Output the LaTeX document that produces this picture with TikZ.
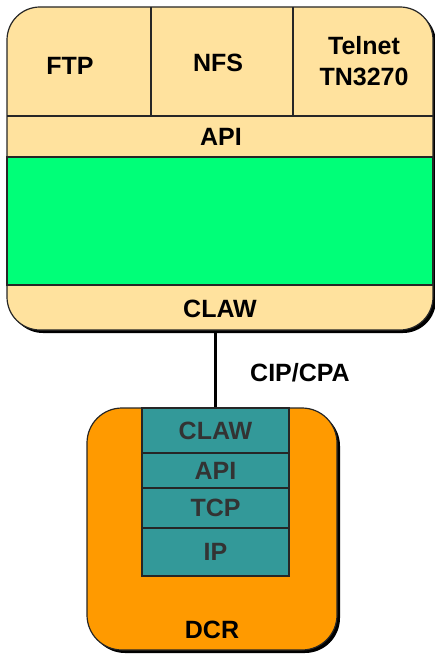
\documentclass[tikz,border=0pt]{standalone}
\usepackage{fontspec}
\setmainfont{Liberation Sans}
\begin{document}
\begin{tikzpicture}[x=1pt,y=-1pt,
  lbl/.style={font=\fontsize{25}{28}\selectfont\bfseries, inner sep=0pt},
  cell/.style={draw=black!85, line width=1.2pt, inner sep=0pt},
  bigbox/.style={draw=black!85, line width=1.2pt, rounded corners=33pt, inner sep=0pt},
  shadowbox/.style={fill=black, rounded corners=33pt, inner sep=0pt}]
\definecolor{beige}{HTML}{FFE29E}
\definecolor{mintgreen}{HTML}{00FF78}
\definecolor{dcrorange}{HTML}{FF9A00}
\definecolor{tealc}{HTML}{339999}
\useasboundingbox (0,0) rectangle (435,655);
% top box
\node[shadowbox, minimum width=426pt, minimum height=323pt] (topsh) at (223,171.5) {};
\node[bigbox, fill=beige, minimum width=426pt, minimum height=323pt] (top) at (220,168.5) {};
\node[cell, fill=mintgreen, minimum width=426pt, minimum height=128pt] (green) at (220,221) {};
\draw[black!85, line width=1.2pt] (7,116) -- (433,116);
\draw[black!85, line width=1.2pt] (7,157) -- (433,157);
\draw[black!85, line width=1.2pt] (151,7) -- (151,116);
\draw[black!85, line width=1.2pt] (293,7) -- (293,116);
\node[lbl] (ftp) at (70,66) {FTP};
\node[lbl] (nfs) at (218,63) {NFS};
\node[lbl, align=center, font=\fontsize{25}{31}\selectfont\bfseries] (telnet) at (364,61) {Telnet\\TN3270};
\node[lbl] (api1) at (221,137) {API};
\node[lbl] (claw1) at (220,309) {CLAW};
% bottom box
\node[shadowbox, minimum width=250pt, minimum height=242pt, rounded corners=35pt] (dcrsh) at (215,532) {};
\node[bigbox, fill=dcrorange, minimum width=250pt, minimum height=242pt, rounded corners=35pt] (dcr) at (212,529) {};
\node[cell, fill=tealc, minimum width=147pt, minimum height=45pt] (claw2) at (215.5,430.5) {};
\node[cell, fill=tealc, minimum width=147pt, minimum height=35pt] (api2) at (215.5,470.5) {};
\node[cell, fill=tealc, minimum width=147pt, minimum height=40pt] (tcp) at (215.5,508) {};
\node[cell, fill=tealc, minimum width=147pt, minimum height=48pt] (ip) at (215.5,552) {};
\node[lbl, text=black!80] at (claw2.center) {CLAW};
\node[lbl, text=black!80] at (api2.center) {API};
\node[lbl, text=black!80] at (tcp.center) {TCP};
\node[lbl, text=black!80] at (ip.center) {IP};
\node[lbl] (dcrlbl) at (212,630) {DCR};
% connector
\draw[line width=3pt] (claw2.north) -- (claw2.north |- top.south);
\node[lbl] (cip) at (300,373) {CIP/CPA};
\end{tikzpicture}
\end{document}
